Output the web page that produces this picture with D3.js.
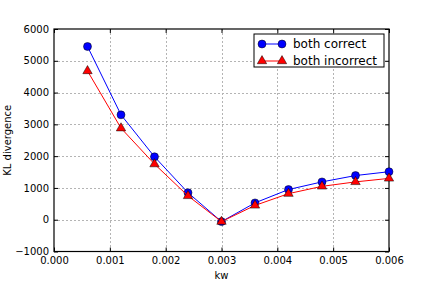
<!DOCTYPE html>
<html>
<head>
<meta charset="utf-8">
<script src="https://cdn.jsdelivr.net/npm/d3@7"></script>
<style>
   body { margin: 0; background: #fff; }
   svg { display: block; font-family: "DejaVu Sans", sans-serif; }
</style>
</head>
<body>
<div id="chart"></div>
<script>
"use strict";

const kw = [0.0006, 0.0012, 0.0018, 0.0024, 0.003, 0.0036, 0.0042, 0.0048, 0.0054, 0.006];
const bothCorrect = [5450, 3300, 1980, 850, -60, 530, 950, 1190, 1390, 1510];
const bothIncorrect = [4680, 2880, 1750, 750, -60, 450, 820, 1050, 1190, 1300];
const xTicks = [0, 0.001, 0.002, 0.003, 0.004, 0.005, 0.006];
const yTicks = [-1000, 0, 1000, 2000, 3000, 4000, 5000, 6000];

(function () {
   const width = 432;
   const height = 288;
   const margin = { left: 54, right: 43, top: 29, bottom: 36.5 };

   const x = d3.scaleLinear()
      .domain([0, 0.006])
      .range([margin.left, width - margin.right]);
   const y = d3.scaleLinear()
      .domain([-1000, 6000])
      .range([height - margin.bottom, margin.top]);

   const svg = d3.select("#chart").append("svg")
      .attr("width", width)
      .attr("height", height);

   // grid
   const grid = svg.append("g")
      .attr("stroke", "#b4b4b4")
      .attr("stroke-width", 1)
      .attr("stroke-dasharray", "2,2");
   grid.selectAll("line.gx")
      .data(xTicks.slice(1, -1))
      .enter().append("line")
      .attr("x1", d => Math.round(x(d)) + 0.5)
      .attr("x2", d => Math.round(x(d)) + 0.5)
      .attr("y1", y(6000))
      .attr("y2", y(-1000));
   grid.selectAll("line.gy")
      .data(yTicks.slice(1, -1))
      .enter().append("line")
      .attr("y1", d => Math.round(y(d)) + 0.5)
      .attr("y2", d => Math.round(y(d)) + 0.5)
      .attr("x1", x(0))
      .attr("x2", x(0.006));

   // axes (ticks inside, on all four sides)
   const xAxisB = d3.axisBottom(x).tickValues(xTicks).tickSizeInner(-4).tickSizeOuter(0)
      .tickPadding(8).tickFormat(d3.format(".3f"));
   const xAxisT = d3.axisTop(x).tickValues(xTicks).tickSizeInner(-4).tickSizeOuter(0)
      .tickFormat("");
   const yAxisL = d3.axisLeft(y).tickValues(yTicks).tickSizeInner(-4).tickSizeOuter(0)
      .tickPadding(8).tickFormat(d => d < 0 ? "\u2212" + Math.abs(d) : d);
   const yAxisR = d3.axisRight(y).tickValues(yTicks).tickSizeInner(-4).tickSizeOuter(0)
      .tickFormat("");

   function styleAxis(g) {
      g.select(".domain").remove();
      g.selectAll("line").attr("stroke", "#000");
      g.selectAll("text")
         .attr("fill", "#000")
         .style("font-size", "10px")
         .style("font-family", "'DejaVu Sans', sans-serif");
   }

   svg.append("g").attr("transform", `translate(0,${y(-1000)})`).call(xAxisB).call(styleAxis)
      .selectAll("text").attr("dy", "0.45em");
   svg.append("g").attr("transform", `translate(0,${y(6000)})`).call(xAxisT).call(styleAxis);
   svg.append("g").attr("transform", `translate(${x(0)},0)`).call(yAxisL).call(styleAxis)
      .selectAll("text").attr("dx", "0.3em");
   svg.append("g").attr("transform", `translate(${x(0.006)},0)`).call(yAxisR).call(styleAxis);

   // frame
   svg.append("rect")
      .attr("x", x(0))
      .attr("y", y(6000))
      .attr("width", x(0.006) - x(0))
      .attr("height", y(-1000) - y(6000))
      .attr("fill", "none")
      .attr("stroke", "#000")
      .attr("stroke-width", 1.2);

   const line = d3.line()
      .x(d => x(d[0]))
      .y(d => y(d[1]));

   const series = [
      { name: "both correct", values: bothCorrect, colour: "#0000ff", symbol: d3.symbolCircle, size: 50 },
      { name: "both incorrect", values: bothIncorrect, colour: "#ff0000", symbol: d3.symbolTriangle, size: 38 }
   ];

   // matplotlib draws in order: blue first, then red on top
   for (const s of series) {
      const pts = kw.map((k, i) => [k, s.values[i]]);
      svg.append("path")
         .datum(pts)
         .attr("d", line)
         .attr("fill", "none")
         .attr("stroke", s.colour)
         .attr("stroke-width", 1);
      svg.append("g").selectAll("path")
         .data(pts)
         .enter().append("path")
         .attr("transform", d => `translate(${x(d[0])},${y(d[1])})`)
         .attr("d", d3.symbol().type(s.symbol).size(s.size))
         .attr("fill", s.colour)
         .attr("stroke", "#000")
         .attr("stroke-width", 0.5);
   }

   // axis labels
   svg.append("text")
      .attr("x", (x(0) + x(0.006)) / 2)
      .attr("y", 279)
      .attr("text-anchor", "middle")
      .style("font-size", "10px")
      .text("kw");
   svg.append("text")
      .attr("transform", `translate(11,${(y(6000) + y(-1000)) / 2}) rotate(-90)`)
      .attr("text-anchor", "middle")
      .style("font-size", "10px")
      .text("KL divergence");

   // legend
   const lg = svg.append("g").attr("transform", "translate(254,34)");
   lg.append("rect")
      .attr("width", 130)
      .attr("height", 33)
      .attr("fill", "#fff")
      .attr("stroke", "#000")
      .attr("stroke-width", 1);
   series.forEach((s, i) => {
      const row = lg.append("g").attr("transform", `translate(0,${10 + i * 17})`);
      row.append("line")
         .attr("x1", 8).attr("x2", 28)
         .attr("stroke", s.colour)
         .attr("stroke-width", 1);
      for (const mx of [8, 28]) {
         row.append("path")
            .attr("transform", `translate(${mx},0)`)
            .attr("d", d3.symbol().type(s.symbol).size(s.size))
            .attr("fill", s.colour)
            .attr("stroke", "#000")
            .attr("stroke-width", 0.5);
      }
      row.append("text")
         .attr("x", 39)
         .attr("dy", "0.35em")
         .style("font-size", "12px")
         .text(s.name);
   });
})();
</script>
</body>
</html>
